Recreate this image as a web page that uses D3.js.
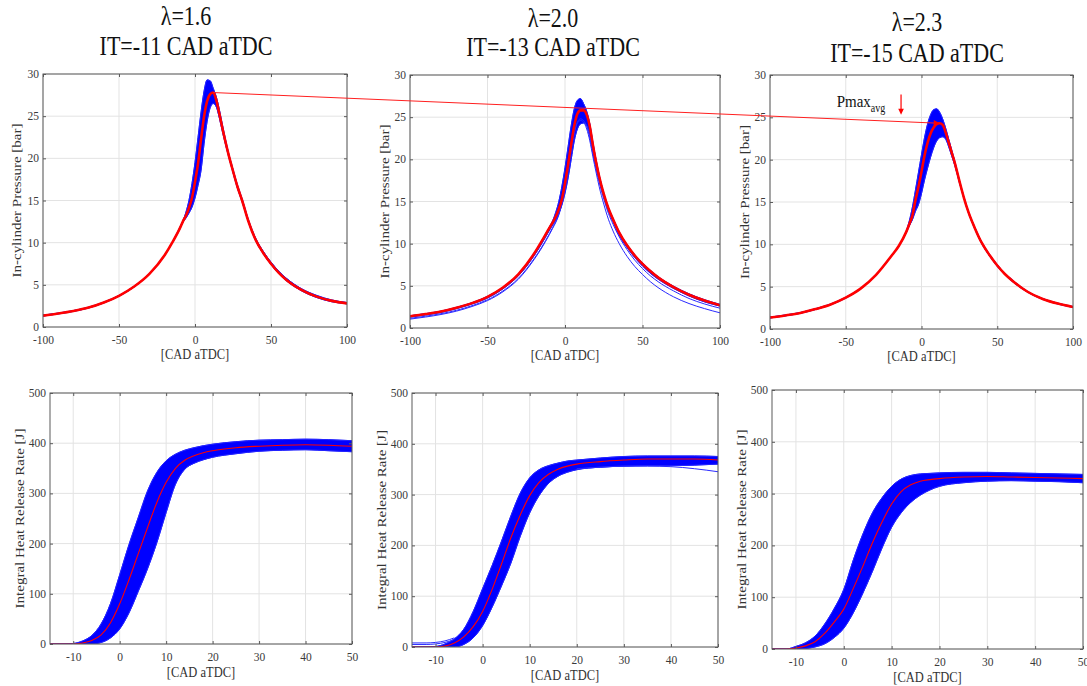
<!DOCTYPE html>
<html>
<head>
<meta charset="utf-8">
<script src="https://cdn.jsdelivr.net/npm/d3@7"></script>
<style>
  body { margin: 0; background: #fff; }
  text { font-family: "Liberation Serif", "Times New Roman", serif; }
</style>
</head>
<body>
<svg width="1087" height="686"></svg>
<script>
// --- data ---
const titleLambda = ["λ=1.6", "λ=2.0", "λ=2.3"];
const titleIT = ["IT=-11 CAD aTDC", "IT=-13 CAD aTDC", "IT=-15 CAD aTDC"];

const pressureTicksX = [-100, -50, 0, 50, 100];
const pressureTicksY = [0, 5, 10, 15, 20, 25, 30];
const heatTicksX = [-10, 0, 10, 20, 30, 40, 50];
const heatTicksY = [0, 100, 200, 300, 400, 500];

// crank angle grid for pressure traces
const cadP = [-100, -90, -80, -70, -60, -50, -40, -30, -20, -15, -10, -8, -6, -4, -2, 0, 2, 4, 6, 8, 10, 12, 14, 16, 18, 20, 22, 25, 28, 31, 35, 40, 45, 50, 55, 60, 70, 80, 90, 100];

// lambda 1.6 : mean (red) and envelope of the cycles (blue)
const p16Mean = [1.35, 1.6, 1.9, 2.3, 2.9, 3.7, 4.8, 6.3, 8.5, 10.0, 11.7, 12.5, 13.2, 14.1, 15.3, 17.2, 19.4, 22.3, 25.0, 26.8, 27.6, 27.8, 26.9, 25.3, 23.6, 22.0, 20.5, 18.5, 16.6, 15.0, 12.6, 10.3, 8.75, 7.5, 6.45, 5.6, 4.4, 3.6, 3.1, 2.8];
const p16Hi = [1.4, 1.65, 1.95, 2.35, 2.95, 3.75, 4.85, 6.35, 8.55, 10.05, 11.8, 12.6, 13.6, 15.0, 17.0, 19.5, 22.5, 25.5, 28.0, 29.3, 29.2, 28.3, 27.3, 25.8, 24.0, 22.3, 20.7, 18.7, 16.8, 15.2, 12.8, 10.5, 8.95, 7.7, 6.65, 5.8, 4.55, 3.75, 3.2, 2.9];
const p16Lo = [1.3, 1.55, 1.85, 2.25, 2.85, 3.65, 4.75, 6.25, 8.45, 9.95, 11.6, 12.4, 12.9, 13.5, 14.2, 15.3, 16.8, 18.6, 21.8, 24.4, 26.0, 26.5, 26.1, 24.8, 23.2, 21.7, 20.3, 18.3, 16.4, 14.85, 12.5, 10.2, 8.65, 7.4, 6.35, 5.5, 4.3, 3.5, 3.0, 2.75];

// lambda 2.0
const p20Mean = [1.4, 1.65, 1.95, 2.4, 2.95, 3.7, 4.8, 6.4, 8.8, 10.3, 11.9, 12.5, 13.2, 14.1, 15.3, 17.2, 19.4, 21.8, 24.0, 25.4, 25.8, 25.8, 25.3, 23.9, 21.7, 19.7, 18.0, 15.9, 14.2, 12.9, 11.3, 9.8, 8.6, 7.6, 6.75, 6.0, 4.85, 3.95, 3.25, 2.7];
const p20Hi = [1.45, 1.7, 2.0, 2.45, 3.0, 3.75, 4.85, 6.45, 8.85, 10.35, 12.0, 12.7, 13.7, 15.0, 16.8, 19.0, 21.5, 24.0, 26.0, 27.0, 27.2, 26.6, 25.7, 24.2, 22.0, 20.0, 18.2, 16.0, 14.3, 13.0, 11.4, 9.9, 8.7, 7.7, 6.85, 6.1, 4.95, 4.05, 3.35, 2.8];
const p20Lo = [1.3, 1.55, 1.85, 2.3, 2.85, 3.55, 4.65, 6.2, 8.55, 10.0, 11.6, 12.2, 12.8, 13.6, 14.6, 16.0, 17.8, 20.0, 22.2, 23.6, 24.2, 24.3, 24.0, 22.9, 21.0, 19.1, 17.6, 15.6, 13.9, 12.6, 11.0, 9.55, 8.35, 7.35, 6.5, 5.8, 4.7, 3.8, 3.1, 2.6];
const p20CycA = [1.15, 1.4, 1.7, 2.1, 2.65, 3.35, 4.4, 5.9, 8.2, 9.6, 11.2, 11.9, 12.6, 13.5, 14.8, 16.5, 18.8, 21.2, 23.2, 24.4, 24.8, 24.6, 23.9, 22.5, 20.6, 18.9, 17.3, 15.3, 13.6, 12.3, 10.8, 9.3, 8.05, 7.05, 6.2, 5.5, 4.4, 3.5, 2.85, 2.35];
const p20CycB = [1.05, 1.3, 1.6, 2.0, 2.55, 3.25, 4.3, 5.8, 8.1, 9.5, 11.1, 11.8, 12.5, 13.4, 14.7, 16.4, 18.6, 21.0, 23.0, 24.3, 24.6, 24.4, 23.6, 22.2, 20.3, 18.5, 16.8, 14.7, 12.9, 11.5, 10.0, 8.5, 7.3, 6.35, 5.5, 4.8, 3.7, 2.9, 2.3, 1.8];

// lambda 2.3
const p23Mean = [1.35, 1.6, 1.9, 2.35, 2.9, 3.7, 4.8, 6.4, 8.6, 9.8, 11.5, 12.4, 13.4, 15.2, 16.8, 18.6, 20.5, 22.0, 23.1, 23.8, 24.2, 24.3, 24.1, 23.2, 22.0, 20.8, 19.6, 17.5, 15.5, 13.8, 12.0, 10.1, 8.7, 7.5, 6.5, 5.7, 4.4, 3.55, 3.0, 2.6];
const p23Hi = [1.4, 1.65, 1.95, 2.4, 2.95, 3.75, 4.85, 6.45, 8.65, 9.85, 11.6, 12.8, 14.4, 16.4, 18.5, 20.6, 22.6, 24.2, 25.3, 25.9, 26.0, 25.6, 24.8, 23.7, 22.4, 21.1, 19.8, 17.6, 15.6, 13.9, 12.1, 10.2, 8.8, 7.6, 6.6, 5.8, 4.45, 3.6, 3.05, 2.65];
const p23Lo = [1.3, 1.55, 1.85, 2.3, 2.85, 3.65, 4.75, 6.35, 8.55, 9.75, 11.4, 12.2, 12.9, 13.9, 14.7, 16.0, 17.6, 19.0, 20.3, 21.4, 22.2, 22.6, 22.7, 22.4, 21.5, 20.4, 19.3, 17.3, 15.4, 13.7, 11.9, 10.0, 8.6, 7.4, 6.4, 5.6, 4.35, 3.5, 2.95, 2.55];

// crank angle grid for integral heat release
const cadH = [-15, -12, -10, -8, -6, -4, -2, 0, 2, 4, 6, 8, 10, 12, 14, 16, 18, 20, 25, 30, 35, 40, 45, 50];

const h16Mean = [0, 0, 0, 2, 7, 18, 42, 80, 128, 180, 232, 282, 322, 350, 366, 375, 381, 385, 391, 394, 396, 397, 396, 394];
const h16Hi = [0, 0, 1, 6, 17, 40, 80, 138, 198, 252, 305, 342, 365, 378, 386, 391, 395, 398, 403, 406, 407, 408, 407, 405];
const h16Lo = [0, 0, 0, 0, 0, 3, 12, 30, 62, 105, 150, 202, 262, 318, 348, 360, 367, 372, 379, 384, 386, 387, 385, 383];

const h20Mean = [0, 0, 0, 2, 8, 20, 40, 70, 113, 163, 215, 260, 298, 324, 340, 350, 356, 360, 365, 368, 370, 370, 370, 368];
const h20Hi = [0, 0, 1, 6, 16, 35, 70, 115, 160, 208, 258, 303, 333, 349, 357, 362, 366, 368, 372, 375, 376, 376, 376, 375];
const h20Lo = [0, 0, 0, 0, 0, 5, 18, 42, 78, 120, 165, 218, 264, 298, 322, 336, 344, 349, 354, 356, 357, 357, 358, 360];
const cadDrop = [20, 25, 30, 35, 40, 45, 50];
const h20Drop = [351, 354, 356, 356, 355, 351, 345];
const cadEarly = [-15, -12, -10, -8, -6];
const h20EarlyA = [8, 8, 9, 12, 18];
const h20EarlyB = [5, 5, 6, 9, 15];

const h23Mean = [0, 0, 2, 6, 14, 30, 52, 77, 117, 160, 205, 245, 280, 304, 317, 324, 327, 329, 332, 333, 332, 331, 330, 329];
const h23Hi = [0, 0, 5, 12, 25, 48, 78, 115, 172, 222, 263, 292, 314, 328, 335, 338, 339, 340, 341, 341, 340, 339, 338, 337];
const h23Lo = [0, 0, 0, 1, 4, 10, 22, 40, 70, 108, 150, 195, 235, 263, 283, 297, 307, 314, 321, 324, 325, 324, 323, 321];

// --- layout ---
const svg = d3.select("svg");
const serif = '"Liberation Serif", "Times New Roman", serif';
const stretch = 1.1; // the picture text is a bit taller than wide

const panels = [
  { box: [43, 74, 347, 327], cad: cadP, mean: p16Mean, hi: p16Hi, lo: p16Lo, extra: [], kind: "p", ylx: 17 },
  { box: [410, 75, 720, 328], cad: cadP, mean: p20Mean, hi: p20Hi, lo: p20Lo,
    extra: [[cadP, p20CycA], [cadP, p20CycB]], kind: "p", ylx: 385 },
  { box: [770, 75, 1073, 329], cad: cadP, mean: p23Mean, hi: p23Hi, lo: p23Lo, extra: [], kind: "p", ylx: 745 },
  { box: [50, 393, 352, 644], cad: cadH, mean: h16Mean, hi: h16Hi, lo: h16Lo, extra: [], kind: "h", ylx: 20 },
  { box: [412, 393, 718, 647], cad: cadH, mean: h20Mean, hi: h20Hi, lo: h20Lo,
    extra: [[cadDrop, h20Drop], [cadEarly, h20EarlyA], [cadEarly, h20EarlyB]], kind: "h", ylx: 382 },
  { box: [772, 390, 1083, 649], cad: cadH, mean: h23Mean, hi: h23Hi, lo: h23Lo, extra: [], kind: "h", ylx: 742 }
];

function stretchText(sel) {
  sel.attr("transform", `scale(1,${stretch})`);
}

function drawPanel(p, idx) {
  const [x0, y0, x1, y1] = p.box;
  const isP = p.kind === "p";
  const x = d3.scaleLinear().domain(isP ? [-100, 100] : [-15, 50]).range([x0, x1]);
  const y = d3.scaleLinear().domain(isP ? [0, 30] : [0, 500]).range([y1, y0]);
  const tx = isP ? pressureTicksX : heatTicksX;
  const ty = isP ? pressureTicksY : heatTicksY;

  const g = svg.append("g");
  const clipId = "clip" + idx;
  svg.append("clipPath").attr("id", clipId)
    .append("rect").attr("x", x0).attr("y", y0).attr("width", x1 - x0).attr("height", y1 - y0);

  // grid
  g.selectAll(".gx").data(tx).join("line")
    .attr("x1", d => x(d)).attr("x2", d => x(d)).attr("y1", y0).attr("y2", y1)
    .attr("stroke", "#e3e3e3").attr("stroke-width", 1);
  g.selectAll(".gy").data(ty).join("line")
    .attr("x1", x0).attr("x2", x1).attr("y1", d => y(d)).attr("y2", d => y(d))
    .attr("stroke", "#e3e3e3").attr("stroke-width", 1);

  const plot = g.append("g").attr("clip-path", `url(#${clipId})`);

  // blue band of the single cycles
  const area = d3.area()
    .x((d, i) => x(p.cad[i]))
    .y0((d, i) => y(p.lo[i]))
    .y1((d, i) => y(p.hi[i]))
    .curve(d3.curveMonotoneX);
  plot.append("path").datum(p.cad).attr("d", area)
    .attr("fill", "#0000ff").attr("stroke", "#0000ff").attr("stroke-width", 0.8);

  const line = d3.line().x(d => x(d[0])).y(d => y(d[1])).curve(d3.curveMonotoneX);
  const zip = (a, b) => a.map((v, i) => [v, b[i]]);

  [p.hi, p.lo].forEach(arr => {
    plot.append("path").attr("d", line(zip(p.cad, arr)))
      .attr("fill", "none").attr("stroke", "#2222ff").attr("stroke-width", 1);
  });
  p.extra.forEach(([cx, cy]) => {
    plot.append("path").attr("d", line(zip(cx, cy)))
      .attr("fill", "none").attr("stroke", "#2a2aff").attr("stroke-width", 1);
  });

  // red mean cycle
  plot.append("path").attr("d", line(zip(p.cad, p.mean)))
    .attr("fill", "none").attr("stroke", "#ff0000")
    .attr("stroke-width", isP ? 2.6 : 1.1);

  // axes, ticks inside, box on
  const axisColor = "#5a5a5a";
  const styleAxis = (sel, labels) => {
    sel.attr("font-family", serif).attr("font-size", 11.5);
    sel.select(".domain").remove();
    sel.selectAll(".tick line").attr("stroke", axisColor);
    sel.selectAll(".tick text").attr("fill", "#3a3a3a");
    if (!labels) sel.selectAll(".tick text").remove();
  };
  const tl = 3;
  const fmt = d => String(d);
  g.append("g").attr("transform", `translate(0,${y1})`)
    .call(d3.axisBottom(x).tickValues(tx).tickFormat(fmt).tickSizeInner(-tl).tickSizeOuter(0).tickPadding(7))
    .call(s => styleAxis(s, true))
    .call(s => s.selectAll(".tick text").call(stretchText));
  g.append("g").attr("transform", `translate(0,${y0})`)
    .call(d3.axisTop(x).tickValues(tx).tickSizeInner(-tl).tickSizeOuter(0))
    .call(s => styleAxis(s, false));
  g.append("g").attr("transform", `translate(${x0},0)`)
    .call(d3.axisLeft(y).tickValues(ty).tickFormat(fmt).tickSizeInner(-tl).tickSizeOuter(0).tickPadding(4))
    .call(s => styleAxis(s, true))
    .call(s => s.selectAll(".tick text").attr("dy", "0.28em").call(stretchText));
  g.append("g").attr("transform", `translate(${x1},0)`)
    .call(d3.axisRight(y).tickValues(ty).tickSizeInner(-tl).tickSizeOuter(0))
    .call(s => styleAxis(s, false));

  g.append("rect").attr("x", x0).attr("y", y0).attr("width", x1 - x0).attr("height", y1 - y0)
    .attr("fill", "none").attr("stroke", axisColor).attr("stroke-width", 1);

  // axis labels
  g.append("text")
    .attr("transform", `translate(${(x0 + x1) / 2},${y1 + (isP ? 32 : 33)}) scale(1,1.2)`)
    .attr("text-anchor", "middle").attr("font-size", "12.5px").attr("fill", "#333")
    .text("[CAD aTDC]");
  g.append("text")
    .attr("transform", `translate(${p.ylx},${(y0 + y1) / 2}) rotate(-90) scale(1.2,1)`)
    .attr("text-anchor", "middle").attr("dy", "0.35em").attr("font-size", "12.5px").attr("fill", "#333")
    .text(isP ? "In-cylinder Pressure [bar]" : "Integral Heat Release Rate [J]");

  return { x, y };
}

const scales = panels.map(drawPanel);

// column titles
const titleX = [186, 553, 917];
const titleY = [[25, 55], [27, 56], [31, 62]];
titleLambda.forEach((t, i) => {
  svg.append("text")
    .attr("transform", `translate(${titleX[i]},${titleY[i][0]}) scale(1,1.25)`)
    .attr("text-anchor", "middle").attr("font-size", "22px").attr("fill", "#111").text(t);
  svg.append("text")
    .attr("transform", `translate(${titleX[i]},${titleY[i][1]}) scale(1,1.25)`)
    .attr("text-anchor", "middle").attr("font-size", "22px").attr("fill", "#111").text(titleIT[i]);
});

// Pmax_avg trend line from the first to the last mean peak
const peak1 = d3.maxIndex(p16Mean);
const peak3 = d3.maxIndex(p23Mean);
const s1 = scales[0], s3 = scales[2];
const ax = s1.x(cadP[peak1]), ay = s1.y(p16Mean[peak1]);
const bx = s3.x(cadP[peak3]), by = s3.y(p23Mean[peak3]);
svg.append("line")
  .attr("x1", ax).attr("y1", ay).attr("x2", bx).attr("y2", by)
  .attr("stroke", "#ff2020").attr("stroke-width", 1);
svg.append("path")
  .attr("transform", `translate(${bx},${by}) rotate(${Math.atan2(by - ay, bx - ax) * 180 / Math.PI})`)
  .attr("d", "M0,0 L-6,-3 L-6,3 Z").attr("fill", "#ff0000");

// Pmax_avg annotation with down arrow
const arrowCad = -13.5;
svg.append("line")
  .attr("x1", s3.x(arrowCad)).attr("x2", s3.x(arrowCad))
  .attr("y1", s3.y(27.7)).attr("y2", s3.y(25.6))
  .attr("stroke", "#ff0000").attr("stroke-width", 1.2);
svg.append("path")
  .attr("transform", `translate(${s3.x(arrowCad)},${s3.y(25.3)})`)
  .attr("d", "M0,0 L-2.8,-6 L2.8,-6 Z").attr("fill", "#ff0000");
const pm = svg.append("text")
  .attr("transform", `translate(${s3.x(-56)},${s3.y(26.2)}) scale(1,1.15)`)
  .attr("font-size", "15px").attr("fill", "#111");
pm.append("tspan").text("Pmax");
pm.append("tspan").attr("font-size", "10px").attr("dy", "4").text("avg");
</script>
</body>
</html>
